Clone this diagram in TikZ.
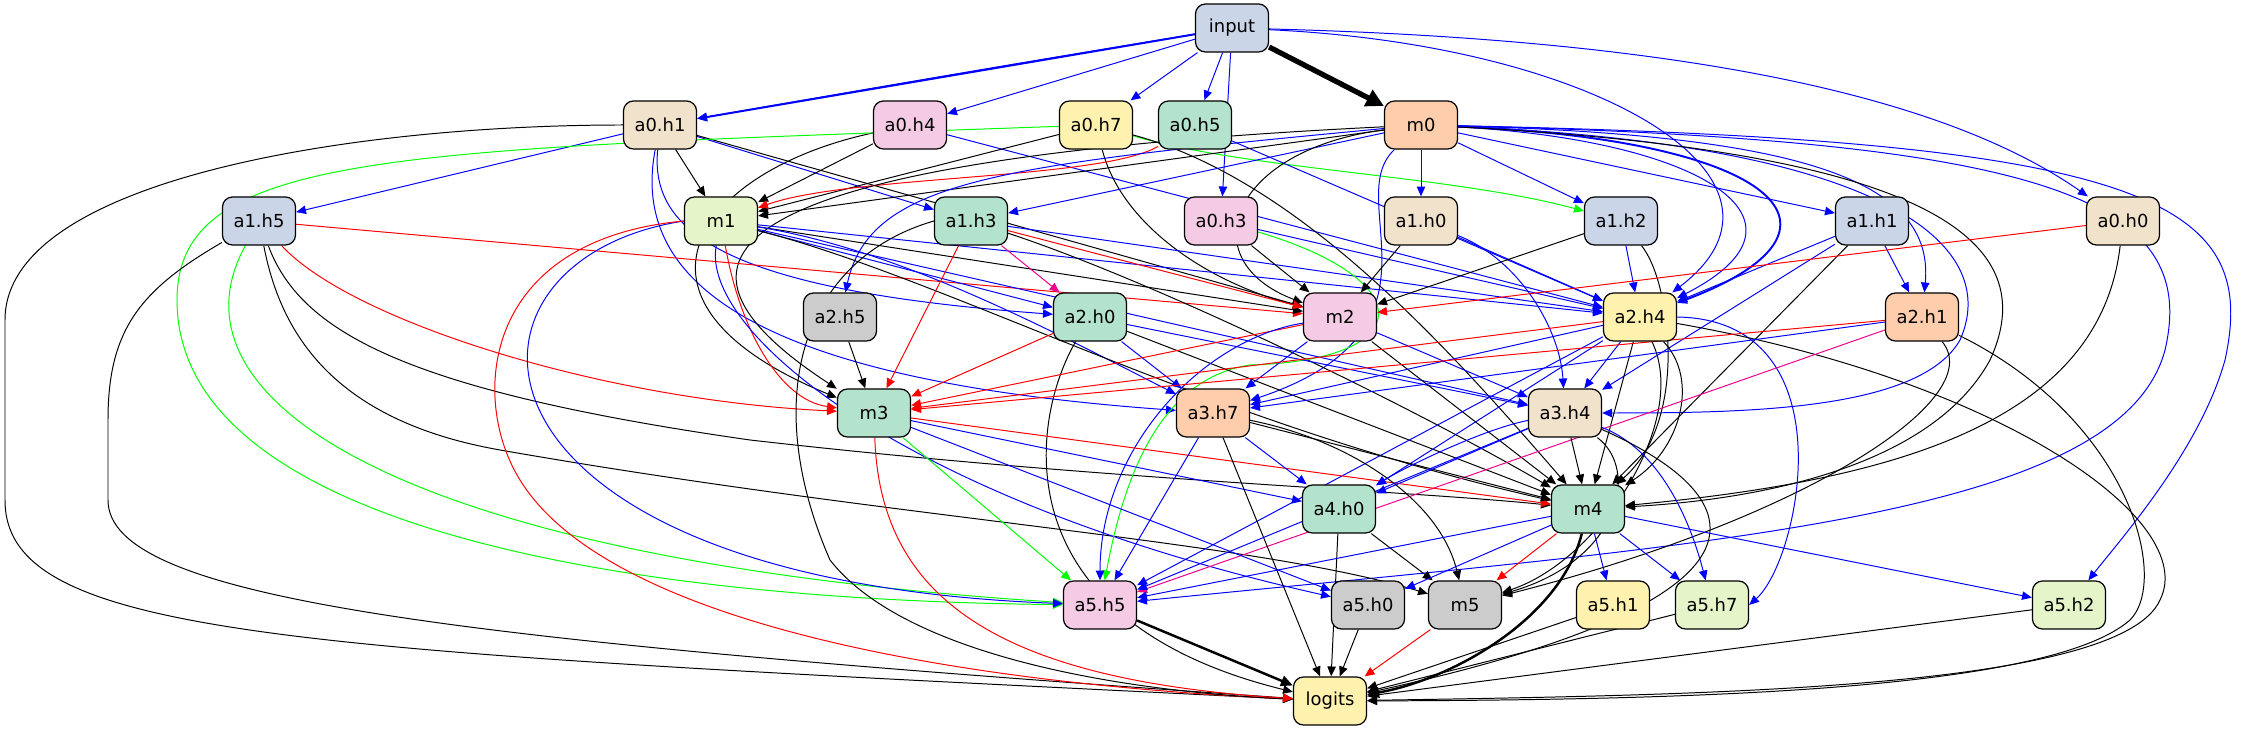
\documentclass[tikz,border=0pt]{standalone}
\usepackage{fontspec}
\setmainfont{DejaVu Sans}
\usepackage{tikz}
\usetikzlibrary{arrows.meta,backgrounds}
\definecolor{cblu}{HTML}{CBD5E8}
\definecolor{cbei}{HTML}{F1E2CC}
\definecolor{cpnk}{HTML}{F4CAE4}
\definecolor{cyel}{HTML}{FFF2AE}
\definecolor{cgrn}{HTML}{B3E2CD}
\definecolor{corg}{HTML}{FDCDAC}
\definecolor{clim}{HTML}{E6F5C9}
\definecolor{cgry}{HTML}{CCCCCC}
\tikzset{
  hbox/.style={draw, rounded corners=0.1cm, minimum width=0.73cm, minimum height=0.48cm,
    inner sep=0pt, line width=0.35pt, font=\fontsize{5.1}{6}\selectfont},
  ed/.style={line width=0.28pt, -{Triangle[length=2.8pt,width=2.4pt]}},
  eb/.style={ed, blue}, ek/.style={ed, black}, er/.style={ed, red},
  eg/.style={ed, green}, em/.style={ed, magenta},
  ethick/.style={line width=0.7pt, -{Triangle[length=3.4pt,width=3pt]}},
}

\begin{document}
\begin{tikzpicture}[x=0.01cm, y=-0.01cm]
\useasboundingbox (0,0) rectangle (2245,731);

\node[hbox, fill=cblu] (input) at (1232,28) {input};

\node[hbox, fill=cbei] (a0h1) at (660,125) {a0.h1};
\node[hbox, fill=cpnk] (a0h4) at (910,125) {a0.h4};
\node[hbox, fill=cyel] (a0h7) at (1096,125) {a0.h7};
\node[hbox, fill=cgrn] (a0h5) at (1195,125) {a0.h5};
\node[hbox, fill=corg] (m0) at (1421,125) {m0};

\node[hbox, fill=cblu] (a1h5) at (259,221) {a1.h5};
\node[hbox, fill=clim] (m1) at (721,221) {m1};
\node[hbox, fill=cgrn] (a1h3) at (971,221) {a1.h3};
\node[hbox, fill=cpnk] (a0h3) at (1221,221) {a0.h3};
\node[hbox, fill=cbei] (a1h0) at (1421,221) {a1.h0};
\node[hbox, fill=cblu] (a1h2) at (1621,221) {a1.h2};
\node[hbox, fill=cblu] (a1h1) at (1872,221) {a1.h1};
\node[hbox, fill=cbei] (a0h0) at (2123,221) {a0.h0};

\node[hbox, fill=cgry] (a2h5) at (840,317) {a2.h5};
\node[hbox, fill=cgrn] (a2h0) at (1090,317) {a2.h0};
\node[hbox, fill=cpnk] (m2) at (1340,317) {m2};
\node[hbox, fill=cyel] (a2h4) at (1640,317) {a2.h4};
\node[hbox, fill=corg] (a2h1) at (1922,317) {a2.h1};

\node[hbox, fill=cgrn] (m3) at (874,413) {m3};
\node[hbox, fill=corg] (a3h7) at (1213,413) {a3.h7};
\node[hbox, fill=cbei] (a3h4) at (1565,413) {a3.h4};

\node[hbox, fill=cgrn] (a4h0) at (1339,509) {a4.h0};
\node[hbox, fill=cgrn] (m4) at (1588,509) {m4};

\node[hbox, fill=cpnk] (a5h5) at (1100,605) {a5.h5};
\node[hbox, fill=cgry] (a5h0) at (1368,605) {a5.h0};
\node[hbox, fill=cgry] (m5) at (1465,605) {m5};
\node[hbox, fill=cyel] (a5h1) at (1613,605) {a5.h1};
\node[hbox, fill=clim] (a5h7) at (1712,605) {a5.h7};
\node[hbox, fill=clim] (a5h2) at (2069,605) {a5.h2};

\node[hbox, fill=cyel] (logits) at (1330,701) {logits};

\begin{scope}[on background layer]
% layer 0
\draw[eb, line width=0.55pt] (input) -- (a0h1);
\draw[eb] (input) .. controls (1000,66) and (850,92) .. (a0h1);
\path (input) edge[eb] (a0h4) edge[eb] (a0h7) edge[eb] (a0h5) edge[eb] (a0h3);
\draw[line width=1.5pt, -{Triangle[length=5pt,width=5pt]}] (input) -- (m0);
\draw[eb] (input) .. controls (1700,40) and (1950,100) .. (a0h0);
\draw[eb] (input) .. controls (1600,45) and (1820,180) .. (a2h4);

\path (a0h1) edge[ek] (m1) edge[eb] (a1h5) edge[eb] (a1h3) edge[ek] (m2);
\draw[eb] (a0h1) .. controls (650,230) and (720,290) .. (a2h0);
\draw[eb] (a0h1) .. controls (630,280) and (750,380) .. (a3h7);
\draw[ek] (a0h1) .. controls (350,125) and (5,180) .. (5,320) -- (5,500)
  .. controls (5,640) and (300,650) .. (logits);

\path (a0h4) edge[ek] (m1) edge[eb] (a2h4);
\draw[ek] (a0h4) .. controls (700,170) and (600,300) .. (m3);

\path (a0h7) edge[ek] (m1);
\draw[ek] (a0h7) .. controls (1120,220) and (1200,280) .. (m2);
\draw[eg] (a0h7) .. controls (1250,170) and (1450,175) .. (a1h2);
\draw[eg] (a0h7) .. controls (400,150) and (177,150) .. (177,300)
  .. controls (177,520) and (600,600) .. (a5h5);
\draw[ek] (a0h7) .. controls (1300,180) and (1450,350) .. (m4);

\draw[er] (a0h5) .. controls (1100,180) and (850,175) .. (m1);
\path (a0h5) edge[eb] (a2h4);

% m0
\path (m0) edge[ek] (m1) edge[eb] (a1h3) edge[eb] (a1h0) edge[eb] (a1h2) edge[eb] (a1h1);
\draw[eb] (m0) .. controls (1000,165) and (870,180) .. (a2h5);
\draw[ek] (m0) .. controls (700,160) and (640,260) .. (m3);
\draw[ek] (m0) .. controls (1230,150) and (1190,260) .. (m2);
\draw[eb] (m0) .. controls (1340,200) and (1460,330) .. (a3h7);
\draw[eb, line width=0.55pt] (m0) .. controls (1780,140) and (1870,230) .. (a2h4);
\draw[eb] (m0) .. controls (1700,140) and (1830,220) .. (a2h4);
\draw[eb] (m0) .. controls (1800,135) and (1935,180) .. (a2h1);
\draw[eb] (m0) .. controls (1900,145) and (2000,250) .. (1960,340)
  .. controls (1920,410) and (1750,413) .. (a3h4);
\draw[ek] (m0) .. controls (1900,150) and (2050,230) .. (1990,360)
  .. controls (1930,470) and (1750,500) .. (m4);
\draw[eb] (m0) .. controls (2050,140) and (2200,200) .. (2165,350)
  .. controls (2120,520) and (1700,545) .. (a5h5);
\draw[eb] (m0) .. controls (2150,140) and (2260,200) .. (2225,360)
  .. controls (2200,450) and (2120,540) .. (a5h2);

% layer 1
\path (a1h5) edge[er] (m2);
\draw[er] (a1h5) .. controls (350,320) and (600,400) .. (m3);
\draw[ek] (a1h5) .. controls (300,330) and (400,390) .. (750,440)
  .. controls (1100,480) and (1400,490) .. (m4);
\draw[ek] (a1h5) .. controls (280,330) and (330,420) .. (500,450)
  .. controls (900,520) and (1250,540) .. (m5);
\draw[eg] (a1h5) .. controls (160,400) and (400,560) .. (a5h5);
\draw[ek] (a1h5) .. controls (140,290) and (108,330) .. (108,420) -- (108,500)
  .. controls (108,600) and (450,640) .. (logits);

\path (m1) edge[ek] (m2) edge[eb] (a2h0) edge[eb] (a2h4) edge[eb] (a3h4);
\draw[eb] (m1) .. controls (900,250) and (1050,330) .. (a3h7);
\draw[ek] (m1) .. controls (950,280) and (1200,420) .. (m4);
\draw[er] (m1) .. controls (740,330) and (780,400) .. (m3);
\draw[eb] (m1) .. controls (700,330) and (900,500) .. (a5h0);
\draw[eb] (m1.west) .. controls (430,260) and (440,580) .. (a5h5);
\draw[er] (m1.west) .. controls (480,240) and (470,400) .. (520,480)
  .. controls (600,610) and (900,680) .. (logits);

\path (a1h3) edge[er] (m3) edge[em] (a2h0) edge[er] (m2) edge[eb] (a2h4);
\draw[ek] (a1h3) .. controls (1150,280) and (1400,400) .. (m4);
\draw[ek] (a1h3.west) .. controls (800,260) and (760,400) .. (830,560)
  .. controls (900,650) and (1100,690) .. (logits);

\path (a0h3) edge[ek] (m2) edge[eb] (a2h4);
\draw[eg] (a0h3) .. controls (1420,280) and (1420,360) .. (1250,365)
  .. controls (1150,380) and (1120,500) .. (a5h5);

\path (a1h0) edge[ek] (m2) edge[eb] (a2h4);
\draw[eb] (a1h0) .. controls (1520,260) and (1560,330) .. (a3h4);

\path (a1h2) edge[eb] (a2h4) edge[ek] (m2);
\draw[ek] (a1h2) .. controls (1670,280) and (1690,420) .. (m4);

\path (a1h1) edge[eb] (a2h4) edge[eb] (a2h1) edge[ek] (m4) edge[eb] (a3h4);

\path (a0h0) edge[er] (m2);
\draw[ek] (a0h0) .. controls (2100,420) and (1900,480) .. (m4);

% layer 2
\path (a2h5) edge[ek] (m3);

\path (a2h0) edge[er] (m3) edge[eb] (a3h7) edge[eb] (a3h4) edge[ek] (m4);
\draw[ek] (a2h0) .. controls (1030,420) and (1000,620) .. (logits);

\path (m2) edge[er] (m3) edge[eb] (a3h7) edge[eb] (a3h4) edge[ek] (m4);
\draw[eb] (m2) .. controls (1200,340) and (1100,450) .. (a5h5);

\path (a2h4) edge[eb] (a3h4) edge[ek] (m4) edge[er] (m3) edge[eb] (a3h7)
  edge[eb] (a4h0) edge[eb] (a5h5);
\draw[ek] (a2h4) .. controls (1700,380) and (1680,450) .. (m4);
\draw[eb] (a2h4.east) .. controls (1850,320) and (1800,560) .. (a5h7.east);
\draw[ek] (a2h4) .. controls (1690,420) and (1600,560) .. (m5);
\draw[ek] (a2h4) .. controls (2000,380) and (2200,520) .. (2160,600)
  .. controls (2120,690) and (1700,695) .. (logits);

\path (a2h1) edge[er] (m3) edge[eb] (a3h7) edge[em] (a5h5);
\draw[ek] (a2h1) .. controls (1990,400) and (1800,520) .. (m5);
\draw[ek] (a2h1) .. controls (2130,420) and (2170,580) .. (2130,620)
  .. controls (2050,690) and (1700,700) .. (logits);

% layer 3
\path (m3) edge[eg] (a5h5) edge[er] (m4) edge[eb] (a4h0) edge[eb] (a5h0);
\draw[er] (m3) .. controls (880,600) and (1000,680) .. (logits);

\path (a3h7) edge[eb] (a4h0) edge[ek] (m4) edge[eb] (a5h5) edge[ek] (logits);
\draw[ek] (a3h7) .. controls (1350,440) and (1440,500) .. (m5);

\path (a3h4) edge[ek] (m4) edge[eb] (a4h0) edge[eb] (a5h5);
\draw[eb] (a3h4) .. controls (1480,430) and (1400,470) .. (a4h0);
\draw[eb] (a3h4) .. controls (1660,450) and (1690,520) .. (a5h7);
\draw[ek] (a3h4) .. controls (1640,470) and (1620,560) .. (m5);
\draw[ek] (a3h4) .. controls (1760,500) and (1790,600) .. (logits);

% layer 4 and 5
\path (a4h0) edge[ek] (m5) edge[ek] (logits);
\path (m4) edge[eb] (a5h5) edge[eb] (a5h0) edge[er] (m5) edge[eb] (a5h1)
  edge[eb] (a5h7) edge[eb] (a5h2);
\draw[ethick] (m4) .. controls (1560,620) and (1450,680) .. (logits);
\draw[ethick] (a5h5) -- (logits);
\path (a5h0) edge[ek] (logits);
\path (m5) edge[er] (logits);
\path (a5h1) edge[ek] (logits) (a5h7) edge[ek] (logits) (a5h2) edge[ek] (logits);
\end{scope}
\end{tikzpicture}
\end{document}
